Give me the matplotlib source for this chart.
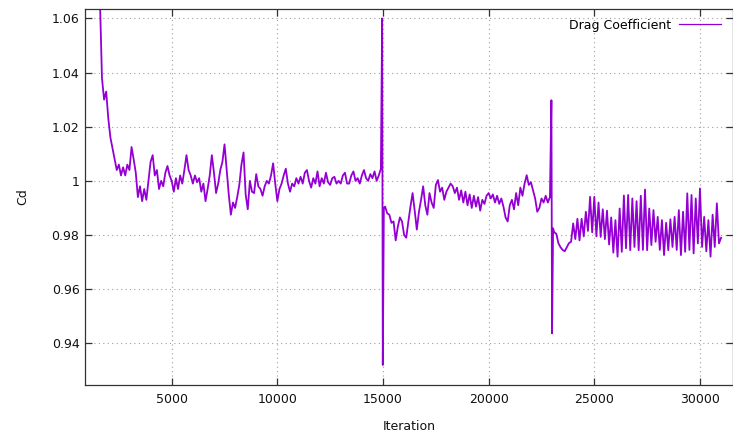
import numpy as np
import matplotlib
matplotlib.use("Agg")
import matplotlib.pyplot as plt
from matplotlib.ticker import FormatStrFormatter

# ---------------- data ----------------
seg1_start, seg1_step = 1500, 100
cd_seg1 = [
    1.090, 1.068, 1.038, 1.030, 1.033, 1.023, 1.016, 1.012, 1.008, 1.004,
    1.006, 1.002, 1.005, 1.002, 1.006, 1.004, 1.0125, 1.008, 1.003, 0.994,
    0.998, 0.9925, 0.997, 0.993, 1.000, 1.007, 1.0095, 1.002, 1.004, 0.997,
    1.000, 0.998, 1.003, 1.0055, 1.002, 1.000, 0.996, 1.001, 0.997, 1.002,
    0.999, 1.004, 1.0095, 1.004, 1.002, 0.999, 1.002, 0.9995, 1.001, 0.996,
    0.999, 0.9925, 0.997, 1.002, 1.0095, 1.003, 0.9955, 0.999, 1.004, 1.007,
    1.0135, 1.004, 0.995, 0.9875, 0.992, 0.990, 0.994, 0.9985, 1.006, 1.0105,
    0.995, 0.9895, 1.000, 0.996, 0.9955, 1.0025, 0.998, 0.997, 0.9945, 0.998,
    1.000, 0.999, 1.002, 1.0065, 0.999, 0.9925, 0.997, 0.999, 1.002, 1.0045,
    0.999, 0.996, 0.999, 0.998, 1.001, 0.999, 1.0015, 0.999, 1.003, 1.004,
    1.000, 0.9975, 1.001, 0.999, 1.0035, 0.998, 1.001, 0.999, 1.003, 0.9995,
    0.9985, 1.001, 1.0015, 0.999, 1.000, 0.999, 1.002, 1.003, 0.999, 0.999,
    1.002, 1.0035, 1.000, 1.001, 0.999, 1.002, 1.004, 1.001, 1.000, 1.0025,
    1.001, 1.0035, 1.000, 1.002, 1.0045,
]

iter_spike1 = [14960, 14990, 15040]
cd_spike1 = [1.060, 0.932, 0.990]

seg2_start, seg2_step = 15100, 100
cd_seg2 = [
    0.9905, 0.988, 0.9875, 0.9845, 0.985, 0.978, 0.983, 0.9865, 0.985, 0.980,
    0.979, 0.985, 0.9905, 0.9955, 0.989, 0.982, 0.9885, 0.993, 0.998, 0.991,
    0.9875, 0.9955, 0.992, 0.990, 0.9985, 1.0003, 0.996, 0.9975, 0.993, 0.996,
    0.9975, 0.999, 0.998, 0.9955, 0.9975, 0.993, 0.9965, 0.992, 0.996, 0.991,
    0.995, 0.990, 0.9945, 0.9905, 0.994, 0.989, 0.993, 0.9915, 0.9945, 0.9955,
    0.9935, 0.995, 0.992, 0.9945, 0.9915, 0.9935, 0.9905, 0.9865, 0.985, 0.991,
    0.993, 0.9895, 0.9955, 0.991, 0.9975, 0.9945, 0.999, 1.0021, 0.9985, 0.9995,
    0.9965, 0.9935, 0.9886, 0.990, 0.9935, 0.992, 0.9945, 0.992, 0.994,
]

iter_spike2 = [22970, 23000, 23050]
cd_spike2 = [1.0298, 0.9437, 0.9825]

seg3_start, seg3_step = 23100, 100
cd_seg3 = [
    0.981, 0.9805, 0.977, 0.9755, 0.9745, 0.974, 0.9755, 0.977, 0.9775, 0.9843,
    0.9785, 0.986, 0.978, 0.986, 0.9795, 0.9886, 0.9815, 0.9941, 0.981, 0.9941,
    0.9795, 0.992, 0.9793, 0.9895, 0.9785, 0.989, 0.9765, 0.9865, 0.9735, 0.9855,
    0.972, 0.9898, 0.9738, 0.9946, 0.9751, 0.9948, 0.9744, 0.9935, 0.9756, 0.9925,
    0.9744, 0.9945, 0.9745, 0.9968, 0.9744, 0.9898, 0.9763, 0.9892, 0.9775, 0.9867,
    0.9745, 0.9855, 0.9726, 0.9845, 0.9744, 0.9858, 0.9756, 0.9867, 0.9745, 0.9892,
    0.9726, 0.9886, 0.9738, 0.9954, 0.9745, 0.9948, 0.9732, 0.9935, 0.9769, 0.9972,
    0.9756, 0.9867, 0.974, 0.9855, 0.972, 0.9875, 0.9756, 0.9917, 0.9769, 0.979,
]

x_ticks = [5000, 10000, 15000, 20000, 25000, 30000]
y_ticks = [0.94, 0.96, 0.98, 1.00, 1.02, 1.04, 1.06]
x_label = "Iteration"
y_label = "Cd"
series_label = "Drag Coefficient"

# ---------------- assemble ----------------
it1 = seg1_start + seg1_step * np.arange(len(cd_seg1))
it2 = seg2_start + seg2_step * np.arange(len(cd_seg2))
it3 = seg3_start + seg3_step * np.arange(len(cd_seg3))
iters = np.concatenate([it1, iter_spike1, it2, iter_spike2, it3])
cd = np.concatenate([cd_seg1, cd_spike1, cd_seg2, cd_spike2, cd_seg3])

# ---------------- plot ----------------
plt.rcParams['font.family'] = ['DejaVu Sans']
W, H = 733, 441
fig = plt.figure(figsize=(W / 100, H / 100), dpi=100)
left, right, top, bottom = 85, 732.5, 8.7, 385
ax = fig.add_axes([left / W, 1 - bottom / H, (right - left) / W, (bottom - top) / H])

ax.plot(iters, cd, color='#9400D3', lw=1.3, label=series_label)

ax.set_xlim(897, 31540)
ax.set_ylim(0.9246, 1.0636)
ax.set_xticks(x_ticks)
ax.set_yticks(y_ticks)
ax.yaxis.set_major_formatter(FormatStrFormatter('%g'))

ax.grid(True, color='#a0a0a0', linestyle=(0, (1, 3)), linewidth=0.8)
ax.tick_params(direction='in', length=5, width=0.9, color='#333333',
               top=True, right=True, labelsize=9, labelcolor='#111111')
ax.tick_params(axis='x', pad=6)
ax.tick_params(axis='y', pad=4)
for s in ax.spines.values():
    s.set_color('#333333')
    s.set_linewidth(0.9)

ax.set_xlabel(x_label, fontsize=9, color='#111111', labelpad=10)
ax.set_ylabel(y_label, fontsize=9, color='#111111', labelpad=16)

leg = ax.legend(loc='upper right', frameon=False, markerfirst=False, fontsize=9,
                handlelength=3.4, handletextpad=0.6, borderaxespad=0.4,
                bbox_to_anchor=(0.998, 1.0))
for h in leg.get_lines():
    h.set_linewidth(0.9)

fig.savefig('out.png', dpi=100)
